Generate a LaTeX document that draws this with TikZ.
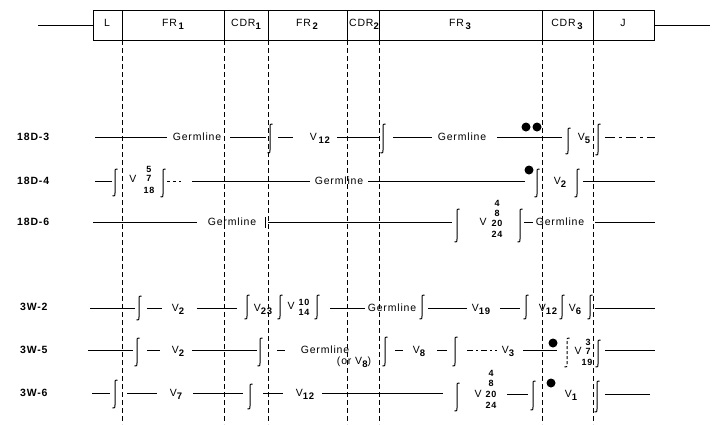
\documentclass[tikz,border=0pt]{standalone}
\usepackage{fontspec}
\setmainfont{Liberation Sans}[LetterSpace=8]
\newcommand\sbs[1]{\raisebox{-0.55ex}{\fontsize{9.5}{10}\selectfont\bfseries #1}}
\newcommand\Brk[3]{\draw[brk] ({#1+2.5},{#2}) .. controls (#1,{#2}) .. (#1,{#2+3}) -- (#1,{#3-3}) .. controls (#1,{#3}) .. ({#1-2.5},{#3});}
\begin{document}
\begin{tikzpicture}[x=1pt,y=-1pt,
  font=\fontsize{10.5}{12}\selectfont,
  brk/.style={line width=1pt},
  row/.style={line width=0.6pt},
  boxline/.style={line width=1pt},
  guide/.style={line width=0.6pt, dash pattern=on 5pt off 3pt},
  txt/.style={anchor=base, inner sep=0pt, yshift=-3.8pt},
  hdr/.style={anchor=base, inner sep=0pt, yshift=-3.8pt, font=\fontsize{10.5}{12}\selectfont},
  rlab/.style={anchor=base west, inner sep=0pt, yshift=-3.8pt, font=\fontsize{10.5}{12}\selectfont\bfseries},
  stk/.style={anchor=base, inner sep=0pt, yshift=-3.1pt, font=\fontsize{9}{10}\selectfont\bfseries},
  dot/.style={fill=black}]
\useasboundingbox (0,0) rectangle (723,424);
% gene diagram
\draw[boxline] (93,10) rectangle (654,40);
\foreach \x in {122,224,268,347,379,542,593} \draw[boxline] (\x,10) -- (\x,40);
\coordinate (lend) at (38,25);
\coordinate (rend) at (710,25);
\draw[boxline] (lend) -- (93,25);
\draw[boxline] (654,25) -- (rend);
\foreach \x in {122,224,268,347,379,542,593} \draw[guide] (\x,40) -- (\x,424);
\node[hdr] (hL) at (107,23) {L};
\node[hdr] (hFR1) at (173,23) {FR\,\sbs{1}};
\node[hdr] (hCDR1) at (246,23) {CDR\sbs{1}};
\node[hdr] (hFR2) at (307,23) {FR\,\sbs{2}};
\node[hdr] (hCDR2) at (364,23) {CDR\sbs{2}};
\node[hdr] (hFR3) at (460,23) {FR\,\sbs{3}};
\node[hdr] (hCDR3) at (567,23) {CDR\,\sbs{3}};
\node[hdr] (hJ) at (623,23) {J};
% row labels
\node[rlab] (r1) at (17,137) {18D-3};
\node[rlab] (r2) at (17,181) {18D-4};
\node[rlab] (r3) at (17,222) {18D-6};
\node[rlab] (r4) at (20,307) {3W-2};
\node[rlab] (r5) at (20,350) {3W-5};
\node[rlab] (r6) at (20,393) {3W-6};
% ---- 18D-3
\draw[row] (95,137) -- (167,137);
\node[txt] (a1) at (197,137) {Germline};
\draw[row] (230,137) -- (266,137);
\Brk{270}{124}{153}
\draw[row] (278,137) -- (293,137);
\node[txt] (a2) at (320,137) {V\,\sbs{12}};
\draw[row] (337,137) -- (380,137);
\Brk{383}{124}{153}
\draw[row] (393,137) -- (432,137);
\node[txt] (a3) at (462,137) {Germline};
\draw[row] (497,137) -- (562,137);
\fill[dot] (526,127) circle (4.5pt);
\fill[dot] (537,127) circle (4.5pt);
\Brk{568}{128}{154}
\node[txt] (a4) at (584,137) {V\sbs{5}};
\Brk{598}{124}{155}
\draw[row, dash pattern=on 10pt off 4pt on 3pt off 4pt] (605,137) -- (655,137);
% ---- 18D-4
\draw[row] (95,181) -- (112,181);
\Brk{115}{169}{196}
\node[txt] (b1) at (133,179) {V};
\node[stk] (b1a) at (149,169) {5};
\node[stk] (b1b) at (149,178) {7};
\node[stk] (b1c) at (149,190) {18};
\Brk{163}{169}{197}
\draw[row, dashed] (167,181) -- (181,181);
\draw[row] (192,181) -- (310,181);
\node[txt] (b2) at (339,181) {Germline};
\draw[row] (368,181) -- (525,181);
\fill[dot] (529,170) circle (4.5pt);
\Brk{537}{169}{197}
\node[txt] (b3) at (560,181) {V\sbs{2}};
\Brk{577}{169}{197}
\draw[row] (583,181) -- (655,181);
% ---- 18D-6
\draw[row] (93,222) -- (197,222);
\node[txt] (c1) at (232,222) {Germline};
\draw[brk] (265,217) -- (265,228);
\draw[row] (268,222) -- (452,222);
\Brk{457}{209}{242}
\node[txt] (c2) at (483,222) {V};
\node[stk] (c2a) at (497,203) {4};
\node[stk] (c2b) at (497,213) {8};
\node[stk] (c2c) at (497,223) {20};
\node[stk] (c2d) at (497,234) {24};
\Brk{520}{209}{242}
\draw[row] (524,222) -- (533,222);
\node[txt] (c3) at (560,222) {Germline};
\draw[row] (595,222) -- (655,222);
% ---- 3W-2
\draw[row] (90,308) -- (135,308);
\Brk{139}{296}{320}
\draw[row] (147,308) -- (162,308);
\node[txt] (d1) at (178,308) {V\sbs{2}};
\draw[row] (197,308) -- (237,308);
\Brk{247}{295}{319}
\node[txt] (d2) at (263,308) {V\sbs{23}};
\Brk{280}{295}{319}
\node[txt] (d3) at (291,306) {V};
\node[stk] (d3a) at (304,302) {10};
\node[stk] (d3b) at (304,312) {14};
\Brk{317}{295}{319}
\draw[row] (330,308) -- (365,308);
\node[txt] (d4) at (392,308) {Germline};
\Brk{422}{295}{319}
\draw[row] (428,308) -- (467,308);
\node[txt] (d5) at (481,308) {V\sbs{19}};
\draw[row] (500,308) -- (520,308);
\Brk{526}{295}{319}
\node[txt] (d6) at (548,308) {V\sbs{12}};
\Brk{562}{295}{319}
\node[txt] (d7) at (575,308) {V\sbs{6}};
\Brk{590}{295}{319}
\draw[row] (595,308) -- (655,308);
% ---- 3W-5
\draw[row] (88,350) -- (133,350);
\Brk{137}{338}{366}
\draw[row] (147,350) -- (160,350);
\node[txt] (e1) at (178,350) {V\sbs{2}};
\draw[row] (192,350) -- (257,350);
\Brk{260}{338}{366}
\draw[row] (277,350) -- (285,350);
\node[txt] (e2) at (325,350) {Germline};
\node[txt] (e3) at (354,361) {(or V\sbs{8})};
\Brk{385}{337}{366}
\draw[row] (395,350) -- (403,350);
\node[txt] (e4) at (419,350) {V\sbs{8}};
\draw[row] (437,350) -- (447,350);
\Brk{455}{337}{366}
\draw[row, dash pattern=on 6pt off 3pt on 2pt off 3pt] (467,350) -- (497,350);
\node[txt] (e5) at (508,350) {V\sbs{3}};
\draw[row] (523,350) -- (557,350);
\fill[dot] (553,343) circle (4.5pt);
\draw[brk, dash pattern=on 3pt off 2pt] (569.5,338) .. controls (567,338) .. (567,341) -- (567,364) .. controls (567,367) .. (564.5,367);
\node[txt] (e6) at (578,351) {V};
\node[stk] (e6a) at (588,342) {3};
\node[stk] (e6b) at (588,351) {7};
\node[stk] (e6c) at (587,362) {19};
\Brk{598}{340}{367}
\draw[row] (605,350) -- (655,350);
% ---- 3W-6
\draw[row] (92,393) -- (110,393);
\Brk{115}{380}{408}
\draw[row] (127,393) -- (157,393);
\node[txt] (f1) at (176,393) {V\sbs{7}};
\draw[row] (193,393) -- (243,393);
\Brk{250}{384}{409}
\draw[row] (263,393) -- (283,393);
\node[txt] (f2) at (305,393) {V\sbs{12}};
\draw[row] (322,393) -- (443,393);
\Brk{457}{383}{411}
\node[txt] (f3) at (478,394) {V};
\node[stk] (f3a) at (491,373) {4};
\node[stk] (f3b) at (491,383) {8};
\node[stk] (f3c) at (491,394) {20};
\node[stk] (f3d) at (491,405) {24};
\draw[row] (507,394) -- (528,394);
\Brk{533}{381}{410}
\fill[dot] (551,383) circle (4.5pt);
\node[txt] (f4) at (571,394) {V\sbs{1}};
\Brk{597}{381}{412}
\draw[row] (605,394) -- (650,394);
\end{tikzpicture}
\end{document}
